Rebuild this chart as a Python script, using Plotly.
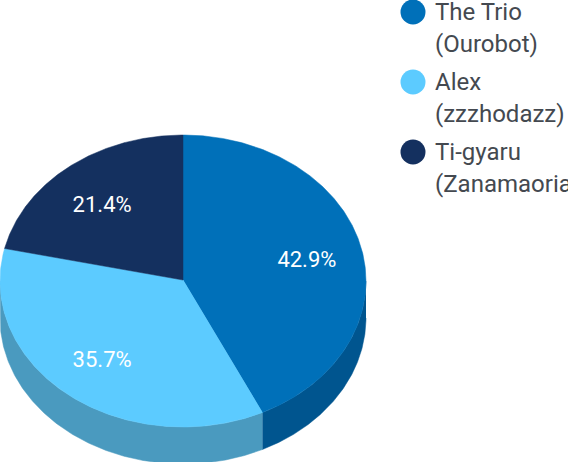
import numpy as np
import plotly.graph_objects as go

legend_first = ["The Trio", "Alex", "Ti-gyaru"]
legend_second = ["(Ourobot)", "(zzzhodazz)", "(Zanamaoria)"]
values = [6, 5, 3]
top_colors = ["#0070B9", "#5CCBFF", "#14305F"]
wall_colors = ["#00558F", "#4A9ABF", "#0E2447"]

W, H = 568, 462
CX, CY, RX, RY, DEPTH = 183, 281, 183, 146, 37
LABEL_RX, LABEL_RY = 0.7, 0.683
KEY_X, TEXT_X, KEY_Y0, KEY_STEP, LINE_STEP = 413, 436, 12, 70, 31.5

def px(theta):
    return CX + RX * np.sin(theta)

def py(theta):
    return CY - RY * np.cos(theta)

fractions = np.array(values, dtype=float) / sum(values)
edges = np.concatenate([[0], np.cumsum(fractions)]) * 2 * np.pi

fig = go.Figure()

for i in range(len(values)):
    a = max(edges[i], np.pi / 2)
    b = min(edges[i + 1], 3 * np.pi / 2)
    if b <= a:
        continue
    t = np.linspace(a, b, 200)
    x = np.concatenate([px(t), px(t[::-1])])
    y = np.concatenate([py(t), py(t[::-1]) + DEPTH])
    fig.add_trace(go.Scatter(x=x, y=y, mode="lines", fill="toself", fillcolor=wall_colors[i],
                             line=dict(width=0.5, color=wall_colors[i]),
                             hoverinfo="skip", showlegend=False))

for i in range(len(values)):
    t = np.linspace(edges[i], edges[i + 1], 300)
    x = np.concatenate([[CX], px(t), [CX]])
    y = np.concatenate([[CY - 1], py(t), [CY - 1]])
    fig.add_trace(go.Scatter(x=x, y=y, mode="lines", fill="toself", fillcolor=top_colors[i],
                             line=dict(width=0.5, color=top_colors[i]),
                             hoverinfo="skip", showlegend=False))

mids = (edges[:-1] + edges[1:]) / 2
fig.add_trace(go.Scatter(
    x=CX - 1 + LABEL_RX * RX * np.sin(mids), y=CY + 3 - LABEL_RY * RY * np.cos(mids),
    mode="text", text=[f"{f * 100:.1f}%" for f in fractions],
    textfont=dict(family="Roboto", size=22, color="white"),
    textposition="middle center", hoverinfo="skip", showlegend=False))

key_y = [KEY_Y0 + KEY_STEP * i for i in range(len(values))]
fig.add_trace(go.Scatter(x=[KEY_X] * len(values), y=key_y, mode="markers",
                         marker=dict(size=25, color=top_colors, line=dict(width=0)),
                         hoverinfo="skip", showlegend=False, cliponaxis=False))

annotations = []
for i in range(len(values)):
    for line, dy in ((legend_first[i], 0), (legend_second[i], LINE_STEP)):
        annotations.append(dict(x=TEXT_X, y=key_y[i] + dy, xref="x", yref="y", text=line,
                                showarrow=False, xanchor="left", yanchor="middle",
                                xshift=-2, borderpad=0,
                                font=dict(family="Roboto", size=24, color="#444950")))

fig.update_layout(
    width=W, height=H, autosize=False,
    margin=dict(l=0, r=0, t=0, b=0, pad=0, autoexpand=False),
    paper_bgcolor="white", plot_bgcolor="white",
    showlegend=False,
    xaxis=dict(range=[0, W], visible=False, fixedrange=True),
    yaxis=dict(range=[H, 0], visible=False, fixedrange=True),
    annotations=annotations,
)
fig.write_html("out.html", config={"displayModeBar": False},
               post_script="document.body.style.margin='0';document.body.style.overflow='hidden';")
